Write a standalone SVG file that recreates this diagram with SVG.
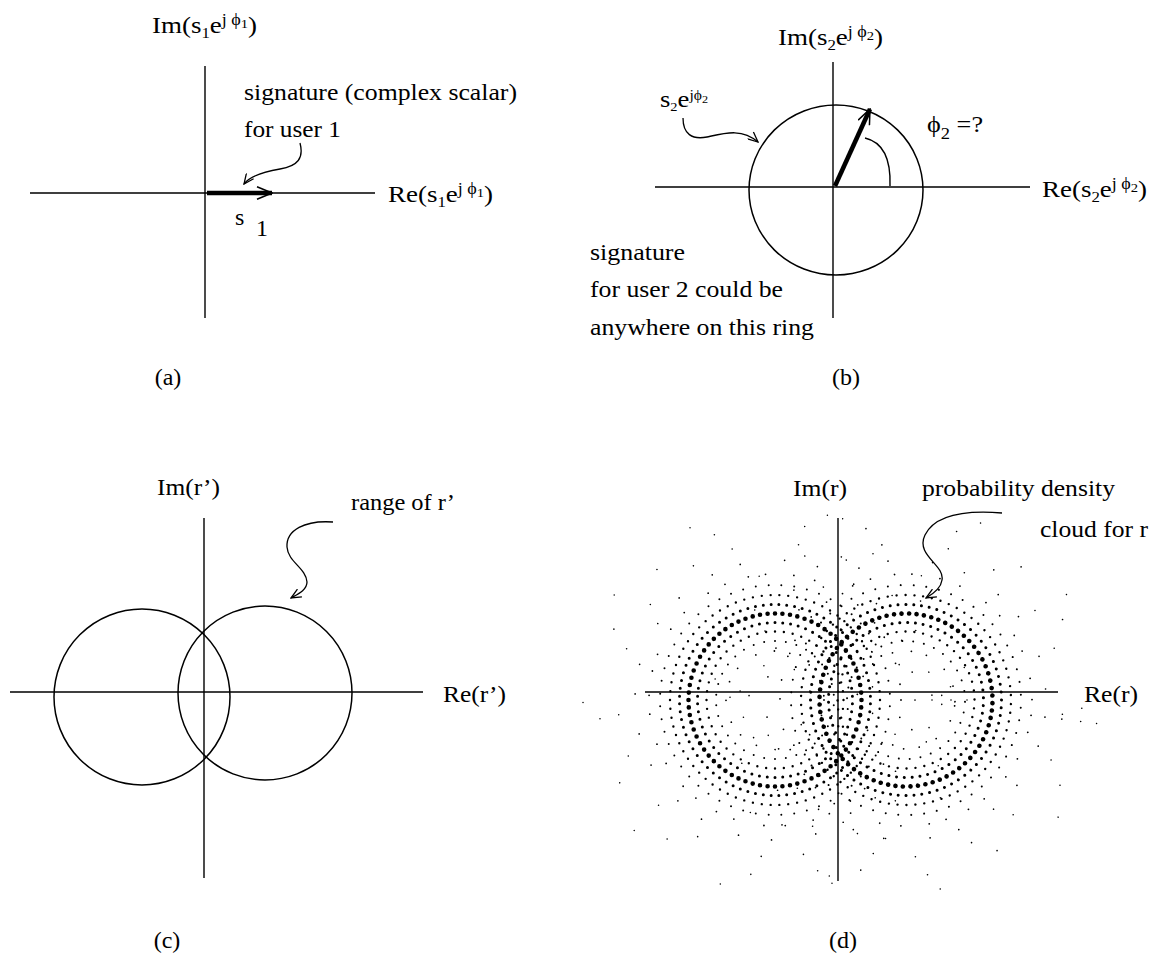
<svg xmlns="http://www.w3.org/2000/svg" xmlns:xlink="http://www.w3.org/1999/xlink" width="1163" height="961" viewBox="0 0 1163 961">
<style>
.ax{stroke:#000;stroke-width:1.4;fill:none}
.ring{fill:none;stroke:#000;stroke-width:1.5}
.t{font-family:"Liberation Serif","Times New Roman",serif;font-size:24px;fill:#000}
.lbl{font-family:"Liberation Serif","Times New Roman",serif;font-size:24px;fill:#000;text-anchor:middle}
.cv{fill:none;stroke:#000;stroke-width:1.3;marker-end:url(#open)}
.thick{stroke:#000;stroke-width:4.5;fill:none;marker-end:url(#chev)}
.dots{fill:none;stroke:#000;stroke-linecap:round}
</style>
<defs>
<marker id="open" viewBox="0 0 12 10" refX="11" refY="5" markerWidth="12" markerHeight="10" markerUnits="userSpaceOnUse" orient="auto">
<path d="M1,0.5 L11,5 L1,9.5" fill="none" stroke="#000" stroke-width="1.3"/>
</marker>
<marker id="chev" viewBox="0 0 17 14" refX="16" refY="7" markerWidth="17" markerHeight="14" markerUnits="userSpaceOnUse" orient="auto">
<path d="M1,0.8 L16,7 L1,13.2" fill="none" stroke="#000" stroke-width="1.5"/>
</marker>
<g id="cloud" class="dots">
<circle r="86.5" pathLength="72" stroke-width="4.6" stroke-dasharray="0 1"/>
<circle r="77.5" pathLength="62" stroke-width="3" stroke-dasharray="0 1" stroke-dashoffset="0.5"/>
<circle r="95.5" pathLength="76" stroke-width="3" stroke-dasharray="0 1" stroke-dashoffset="0.5"/>
<circle r="68.5" pathLength="48" stroke-width="2.4" stroke-dasharray="0 1"/>
<circle r="105" pathLength="74" stroke-width="2.4" stroke-dasharray="0 1"/>
<circle r="59" pathLength="34" stroke-width="2" stroke-dasharray="0 1" stroke-dashoffset="0.5"/>
<circle r="115" pathLength="56" stroke-width="2" stroke-dasharray="0 1" stroke-dashoffset="0.5"/>
<circle r="49" pathLength="100" stroke-width="1.8" stroke-dasharray="0 5.1 0 7.4 0 6.2"/>
<circle r="126" pathLength="100" stroke-width="1.8" stroke-dasharray="0 2.2 0 3.6 0 2.7 0 3.9 0 2.4 0 3.1"/>
<circle r="140" pathLength="100" stroke-width="1.7" stroke-dasharray="0 3.4 0 5.1 0 3.8 0 4.6"/>
<circle r="157" pathLength="100" stroke-width="1.6" stroke-dasharray="0 4.3 0 6.8 0 5.1 0 5.9"/>
<circle r="176" pathLength="100" stroke-width="1.6" stroke-dasharray="0 6.1 0 8.3 0 6.7"/>
<circle r="192" pathLength="100" stroke-width="1.5" stroke-dasharray="0 8.5 0 11.7 0 9.4"/>
<circle r="36" pathLength="100" stroke-width="1.6" stroke-dasharray="0 12 0 16 0 14"/>
</g>
</defs>
<rect width="1163" height="961" fill="#fff"/>

<g id="panel-a">
<path class="ax" d="M205,66 V318 M30,193 H375"/>
<line class="thick" x1="207" y1="193" x2="272" y2="193"/>
<text id="a-im" class="t" x="152" y="33" textLength="105" lengthAdjust="spacingAndGlyphs">Im(s<tspan font-size="15" dy="5">1</tspan><tspan dy="-5">e</tspan><tspan font-size="16" dy="-8">j ϕ</tspan><tspan font-size="13" dy="3">1</tspan><tspan dy="5">)</tspan></text>
<text id="a-re" class="t" x="388" y="202" textLength="105" lengthAdjust="spacingAndGlyphs">Re(s<tspan font-size="15" dy="5">1</tspan><tspan dy="-5">e</tspan><tspan font-size="16" dy="-8">j ϕ</tspan><tspan font-size="13" dy="3">1</tspan><tspan dy="5">)</tspan></text>
<g id="a-note">
<text class="t" x="244" y="100" textLength="273" lengthAdjust="spacingAndGlyphs">signature (complex scalar)</text>
<text class="t" x="244" y="137" textLength="97" lengthAdjust="spacingAndGlyphs">for user 1</text>
</g>
<g id="a-s1">
<text class="t" x="235" y="225">s</text>
<text class="t" x="256" y="236" font-size="16">1</text>
</g>
<text class="lbl" x="168" y="385">(a)</text>
</g>

<g id="panel-b">
<path class="ax" d="M833,62 V318 M655,187 H1030"/>
<ellipse class="ring" cx="836" cy="190" rx="87" ry="85"/>
<line class="thick" x1="835" y1="186" x2="870" y2="109"/>
<path class="ax" d="M865,138 C882,142 891,158 890,186"/>
<text id="b-im" class="t" x="778" y="45" textLength="105" lengthAdjust="spacingAndGlyphs">Im(s<tspan font-size="15" dy="5">2</tspan><tspan dy="-5">e</tspan><tspan font-size="16" dy="-8">j ϕ</tspan><tspan font-size="13" dy="3">2</tspan><tspan dy="5">)</tspan></text>
<text id="b-re" class="t" x="1042" y="197" textLength="105" lengthAdjust="spacingAndGlyphs">Re(s<tspan font-size="15" dy="5">2</tspan><tspan dy="-5">e</tspan><tspan font-size="16" dy="-8">j ϕ</tspan><tspan font-size="13" dy="3">2</tspan><tspan dy="5">)</tspan></text>
<text id="b-s2" class="t" x="660" y="107" font-size="20" textLength="48" lengthAdjust="spacingAndGlyphs">s<tspan font-size="13" dy="4">2</tspan><tspan dy="-4">e</tspan><tspan font-size="14" dy="-7">jϕ</tspan><tspan font-size="11" dy="3">2</tspan></text>
<text id="b-phi" class="t" x="927" y="132" font-size="25" textLength="56" lengthAdjust="spacingAndGlyphs">ϕ<tspan font-size="17" dy="7">2</tspan><tspan dy="-7"> =?</tspan></text>
<g id="b-note">
<text class="t" x="590" y="260" textLength="95" lengthAdjust="spacingAndGlyphs">signature</text>
<text class="t" x="590" y="297" textLength="193" lengthAdjust="spacingAndGlyphs">for user 2 could be</text>
<text class="t" x="590" y="335" textLength="224" lengthAdjust="spacingAndGlyphs">anywhere on this ring</text>
</g>
<text class="lbl" x="846" y="385">(b)</text>
</g>

<g id="panel-c">
<path class="ax" d="M204,518 V878 M10,692 H423"/>
<circle class="ring" cx="142" cy="697" r="88"/>
<circle class="ring" cx="265" cy="693" r="87"/>
<text id="c-im" class="t" x="157" y="495" textLength="63" lengthAdjust="spacingAndGlyphs">Im(r’)</text>
<text id="c-re" class="t" x="443" y="702" textLength="63" lengthAdjust="spacingAndGlyphs">Re(r’)</text>
<text id="c-note" class="t" x="351" y="510" textLength="104" lengthAdjust="spacingAndGlyphs">range of r’</text>
<text class="lbl" x="167" y="948">(c)</text>
</g>

<g id="panel-d">
<use xlink:href="#cloud" href="#cloud" transform="translate(775,700)"/>
<use xlink:href="#cloud" href="#cloud" transform="translate(906,700) rotate(7)"/>
<path class="ax" d="M838,518 V881 M645,692 H1058"/>
<text id="d-im" class="t" x="793" y="496" textLength="54" lengthAdjust="spacingAndGlyphs">Im(r)</text>
<text id="d-re" class="t" x="1084" y="702" textLength="54" lengthAdjust="spacingAndGlyphs">Re(r)</text>
<g id="d-note">
<text class="t" x="922" y="496" textLength="193" lengthAdjust="spacingAndGlyphs">probability density</text>
<text class="t" x="1040" y="537" textLength="108" lengthAdjust="spacingAndGlyphs">cloud for r</text>
</g>
<text class="lbl" x="843" y="948">(d)</text>
</g>

<g id="connectors">
<path class="cv" d="M300,143 C304,158 298,166 280,169 C262,172 250,176 244,184"/>
<path class="cv" d="M683,118 C683,134 692,140 707,137 C725,133 742,128 758,142"/>
<path class="cv" d="M333,522 C305,520 286,530 287,547 C288,562 306,568 307,582 C307,590 298,594 291,598"/>
<path class="cv" d="M1002,513 C965,510 935,515 925,535 C915,555 945,565 942,580 C941,588 933,594 926,598"/>
</g>
</svg>
